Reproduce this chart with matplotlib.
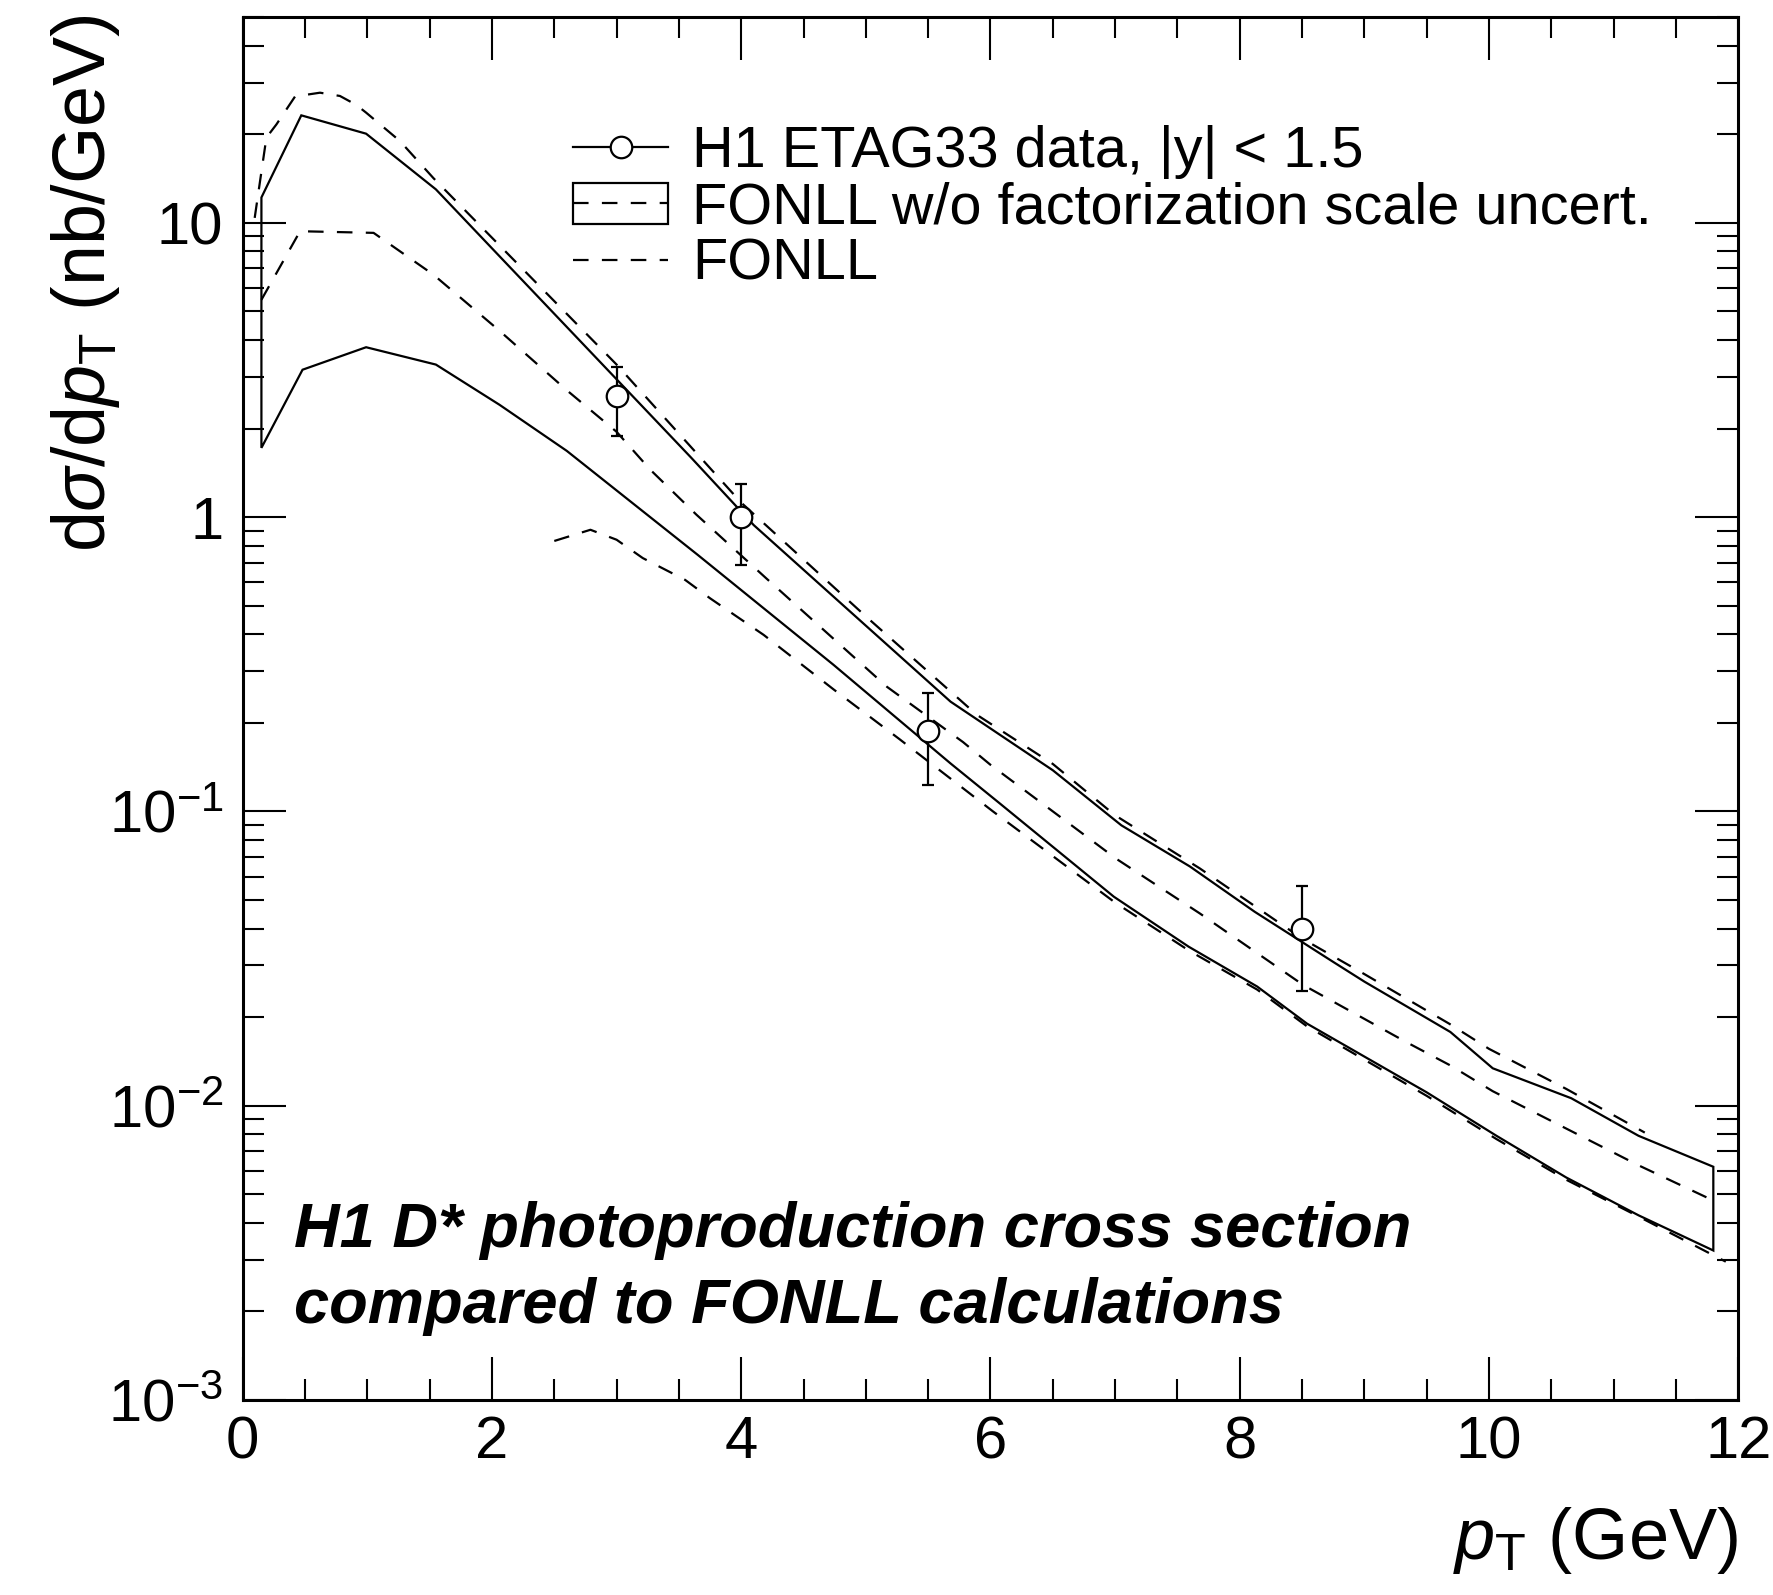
import matplotlib
matplotlib.use('Agg')
import matplotlib.pyplot as plt
import numpy as np
from matplotlib.lines import Line2D
from matplotlib.patches import Rectangle
from matplotlib.legend_handler import HandlerTuple
from matplotlib.ticker import MultipleLocator, FixedLocator, FixedFormatter, LogLocator, NullFormatter

plt.rcParams['font.family'] = ['Liberation Sans', 'DejaVu Sans']
plt.rcParams['mathtext.fontset'] = 'custom'
plt.rcParams['mathtext.rm'] = 'Liberation Sans'
plt.rcParams['mathtext.it'] = 'Liberation Sans:italic'
plt.rcParams['mathtext.bf'] = 'Liberation Sans:bold'

# H1 ETAG33 data points (pT in GeV, dsigma/dpT in nb/GeV)
data_pt = [3.0, 4.0, 5.5, 8.5]
data_val = [2.58, 1.0, 0.187, 0.040]
data_lo = [1.88, 0.69, 0.123, 0.0245]
data_hi = [3.25, 1.30, 0.253, 0.0557]

# FONLL w/o factorization scale uncertainty: band edges
band_up_pt = [0.15, 0.47, 0.99, 1.55, 3.6, 4.1, 5.68, 6.06, 6.5, 7.05, 7.6, 8.12,
              8.75, 9.0, 9.69, 10.03, 10.66, 11.2, 11.8]
band_up = [12.2, 23.2, 20.1, 13.0, 1.59, 0.94, 0.236, 0.184, 0.138, 0.0897, 0.065,
           0.0456, 0.0308, 0.0264, 0.0178, 0.0134, 0.0106, 0.0079, 0.0062]
band_lo_pt = [0.15, 0.48, 0.99, 1.55, 2.06, 2.6, 3.65, 4.74, 5.68, 6.08, 6.99, 7.59,
              8.14, 8.54, 9.5, 10.06, 10.62, 11.2, 11.8]
band_lo = [1.72, 3.17, 3.78, 3.30, 2.41, 1.68, 0.745, 0.315, 0.1455, 0.106, 0.0513,
           0.0347, 0.0254, 0.019, 0.0111, 0.0079, 0.0057, 0.00424, 0.00322]

# FONLL w/o factorization scale uncertainty: central
cen_pt = [0.15, 0.46, 1.05, 1.53, 2.06, 2.6, 3.0, 3.27, 3.64, 4.2, 5.17, 5.78, 6.0,
          7.01, 7.68, 8.51, 9.33, 9.69, 10.03, 11.2, 11.8]
cen = [5.48, 9.37, 9.25, 6.67, 4.3, 2.7, 1.95, 1.45, 1.02, 0.62, 0.265, 0.172, 0.144,
       0.069, 0.045, 0.0257, 0.0165, 0.0137, 0.0112, 0.00627, 0.00476]

# FONLL full uncertainty: upper and lower edges
fonll_up_pt = [0.096, 0.19, 0.27, 0.42, 0.62, 0.78, 0.91, 0.99, 1.26, 1.53, 3.0, 4.0,
               5.0, 5.89, 6.5, 7.0, 7.68, 8.5, 9.0, 9.68, 10.0, 10.62, 11.25]
fonll_up = [10.4, 19.5, 21.6, 26.9, 27.7, 27.0, 25.2, 23.7, 19.0, 14.2, 3.3, 1.12,
            0.46, 0.213, 0.145, 0.097, 0.064, 0.037, 0.028, 0.019, 0.0156, 0.0114, 0.0081]
fonll_lo_pt = [2.5, 2.79, 3.0, 3.21, 3.55, 3.75, 4.18, 4.74, 5.27, 6.02, 7.0, 7.6,
               8.14, 8.54, 9.5, 10.06, 10.62, 11.2, 11.9]
fonll_lo = [0.83, 0.906, 0.838, 0.726, 0.612, 0.53, 0.398, 0.26, 0.176, 0.1, 0.049,
            0.0335, 0.0248, 0.0186, 0.0108, 0.0077, 0.0056, 0.0042, 0.00295]

labels = ['H1 ETAG33 data, |y| < 1.5',
          'FONLL w/o factorization scale uncert.',
          'FONLL']

lw = 1.6
dash = (7, 6)

fig = plt.figure(figsize=(17.73, 15.95), dpi=100)
ax = fig.add_axes([0.1369, 0.1223, 0.8435, 0.8669])
ax.set_yscale('log')
ax.set_xlim(0, 12)
ax.set_ylim(1e-3, 50)

# band outline (closed)
ax.fill(np.r_[band_up_pt, band_lo_pt[::-1]], np.r_[band_up, band_lo[::-1]],
        fill=False, edgecolor='black', lw=lw)
ax.plot(cen_pt, cen, color='black', lw=lw, dashes=dash)
ax.plot(fonll_up_pt, fonll_up, color='black', lw=lw, dashes=dash)
ax.plot(fonll_lo_pt, fonll_lo, color='black', lw=lw, dashes=dash)

data_val = np.array(data_val)
yerr = [data_val - np.array(data_lo), np.array(data_hi) - data_val]
ax.errorbar(data_pt, data_val, yerr=yerr, fmt='o', color='black', mfc='white',
            mec='black', ms=15.5, mew=lw, elinewidth=lw, capsize=4.5, capthick=lw,
            zorder=5)

# axes styling
ax.xaxis.set_major_locator(MultipleLocator(2))
ax.xaxis.set_minor_locator(MultipleLocator(0.5))
ax.yaxis.set_major_locator(FixedLocator([1e-3, 1e-2, 1e-1, 1, 10]))
ax.yaxis.set_major_formatter(FixedFormatter([r'$10^{-3}$', r'$10^{-2}$', r'$10^{-1}$', '1', '10']))
ax.yaxis.set_minor_locator(LogLocator(base=10, subs=np.arange(2, 10), numticks=20))
ax.yaxis.set_minor_formatter(NullFormatter())
ax.tick_params(which='both', direction='in', top=True, right=True, width=1.5,
               labelsize=43, pad=14)
ax.tick_params(axis='x', pad=11)
ax.tick_params(which='major', length=31)
ax.tick_params(which='minor', length=15)
for s in ax.spines.values():
    s.set_linewidth(2.2)

# legend
h_data = Line2D([], [], color='black', lw=lw, marker='o', mfc='white', mec='black',
                ms=15.5, mew=lw)
h_band = (Rectangle((0, 0), 1, 1, fill=False, edgecolor='black', lw=lw),
          Line2D([], [], color='black', lw=lw, dashes=dash))
h_fonll = Line2D([], [], color='black', lw=lw, dashes=dash)
ax.legend([h_data, h_band, h_fonll], labels,
          handler_map={tuple: HandlerTuple(ndivide=1, pad=0)},
          loc='upper left', bbox_to_anchor=(0.3232, 0.9215),
          bbox_transform=fig.transFigure, frameon=False, fontsize=41.5,
          handlelength=1.65, handletextpad=0.42, labelspacing=0.04,
          borderpad=0, borderaxespad=0)

# annotation
fig.text(0.1658, 0.2182, 'H1 D* photoproduction cross section', fontsize=45.5,
         fontweight='bold', fontstyle='italic', va='baseline')
fig.text(0.1658, 0.1705, 'compared to FONLL calculations', fontsize=45.5,
         fontweight='bold', fontstyle='italic', va='baseline')

# axis titles
fig.text(0.9804, 0.0225, r'$p_{\mathrm{T}}$ (GeV)', ha='right', va='baseline', fontsize=52)
fig.text(0.059, 0.991, r'd$\sigma$/d$p_{\mathrm{T}}$ (nb/GeV)', rotation=90,
         rotation_mode='anchor', ha='right', va='baseline', fontsize=53)

fig.savefig('out.png', dpi=100)
